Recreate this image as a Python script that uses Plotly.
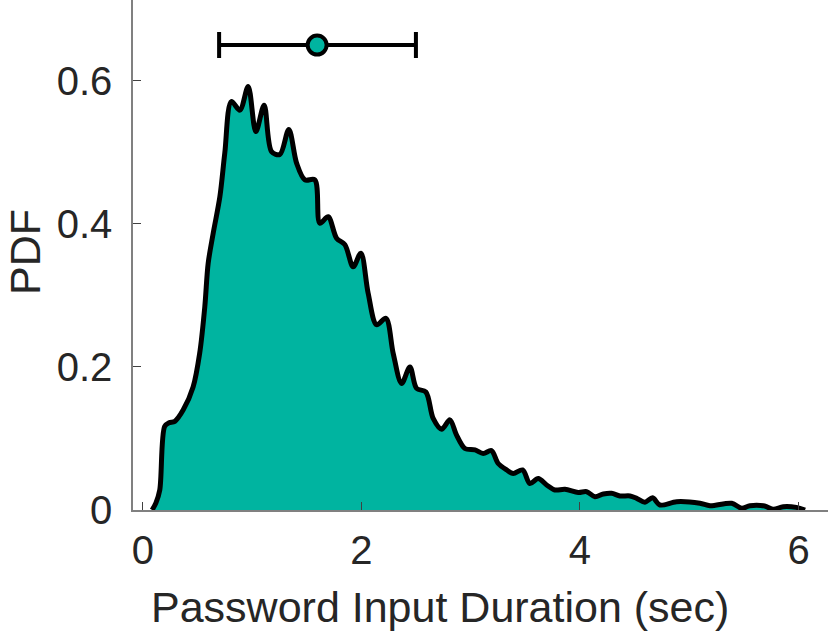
import plotly.graph_objects as go

# Kernel density estimate of password input duration (sec)
pdf_x = [0.085, 0.12, 0.155, 0.20, 0.24, 0.293, 0.37, 0.46, 0.52, 0.567, 0.598, 0.644,
         0.705, 0.75, 0.81, 0.888, 0.964, 1.034, 1.11, 1.178, 1.254, 1.336, 1.407, 1.483,
         1.574, 1.62, 1.696, 1.773, 1.849, 1.925, 1.995, 2.062, 2.139, 2.224, 2.291, 2.368,
         2.444, 2.505, 2.59, 2.657, 2.734, 2.81, 2.87, 2.947, 3.04, 3.115, 3.19, 3.252,
         3.329, 3.39, 3.475, 3.542, 3.618, 3.695, 3.771, 3.863, 3.985, 4.061, 4.137, 4.214,
         4.29, 4.366, 4.458, 4.519, 4.595, 4.665, 4.732, 4.885, 5.098, 5.19, 5.389, 5.48,
         5.556, 5.69, 5.77, 5.86, 5.98, 6.06]
pdf_y = [0.0, 0.01, 0.028, 0.117, 0.122, 0.124, 0.14, 0.172, 0.219, 0.284, 0.345, 0.387,
         0.438, 0.499, 0.571, 0.559, 0.592, 0.529, 0.566, 0.501, 0.497, 0.532, 0.485, 0.4615,
         0.4615, 0.401, 0.41, 0.380, 0.371, 0.340, 0.359, 0.303, 0.259, 0.268, 0.219, 0.177,
         0.200, 0.170, 0.165, 0.128, 0.113, 0.126, 0.105, 0.086, 0.084, 0.079, 0.083, 0.065,
         0.056, 0.051, 0.056, 0.037, 0.044, 0.035, 0.028, 0.029, 0.0245, 0.0256, 0.0186, 0.0224,
         0.0233, 0.0196, 0.0196, 0.0163, 0.011, 0.017, 0.007, 0.0116, 0.0094, 0.006, 0.0094, 0.0024,
         0.006, 0.0056, 0.001, 0.0047, 0.0037, 0.0]

# Summary marker: centre and interval
summary_center = [1.595]
summary_low = [0.698]
summary_high = [2.499]
summary_level = [0.65]

x_ticks = [0, 2, 4, 6]
y_ticks = [0, 0.2, 0.4, 0.6]
y_tick_text = ["0", "0.2", "0.4", "0.6"]

x_title = "Password Input Duration (sec)"
y_title = "PDF"

teal = "rgb(0,180,160)"
font_family = "Liberation Sans, Arial, sans-serif"

fig = go.Figure()
fig.add_trace(go.Scatter(
    x=pdf_x, y=pdf_y, mode="lines", fill="tozeroy",
    fillcolor=teal, line=dict(color="black", width=5, shape="spline", smoothing=0.9),
    hoverinfo="skip", showlegend=False))
fig.add_trace(go.Scatter(
    x=summary_center, y=summary_level, mode="markers",
    marker=dict(size=19, color=teal, line=dict(color="black", width=4)),
    error_x=dict(type="data", symmetric=False,
                 array=[h - c for h, c in zip(summary_high, summary_center)],
                 arrayminus=[c - l for c, l in zip(summary_center, summary_low)],
                 color="black", thickness=4, width=13),
    showlegend=False))

fig.update_layout(
    width=830, height=634,
    margin=dict(l=133, r=2, t=0, b=124),
    paper_bgcolor="white", plot_bgcolor="white",
    font=dict(family=font_family, size=40, color="#262626"),
    xaxis=dict(range=[-0.09, 6.27], tickvals=x_ticks, ticks="inside", ticklen=8,
               tickcolor="#404040", showline=True, linecolor="#808080", linewidth=1.5,
               showgrid=False, zeroline=False, ticklabelstandoff=4, automargin=False),
    yaxis=dict(range=[0, 0.713], tickvals=y_ticks, ticktext=y_tick_text, ticks="inside",
               ticklen=8, tickcolor="#404040", showline=True, linecolor="#808080", linewidth=1.5,
               showgrid=False, zeroline=False, ticklabelstandoff=11, automargin=False),
    annotations=[
        dict(text=x_title, xref="paper", yref="paper", x=(440 - 133) / 695, y=-97 / 510,
             xanchor="center", yanchor="middle", showarrow=False,
             font=dict(size=43, family=font_family, color="#262626")),
        dict(text=y_title, xref="paper", yref="paper", x=(0 - 133) / 695, y=(510 - 252) / 510,
             xanchor="left", yanchor="middle", showarrow=False, textangle=-90, borderpad=0,
             font=dict(size=43, family=font_family, color="#262626")),
    ],
)

fig.write_html("out.html", post_script="document.body.style.margin='0';",
               config={"displayModeBar": False})
